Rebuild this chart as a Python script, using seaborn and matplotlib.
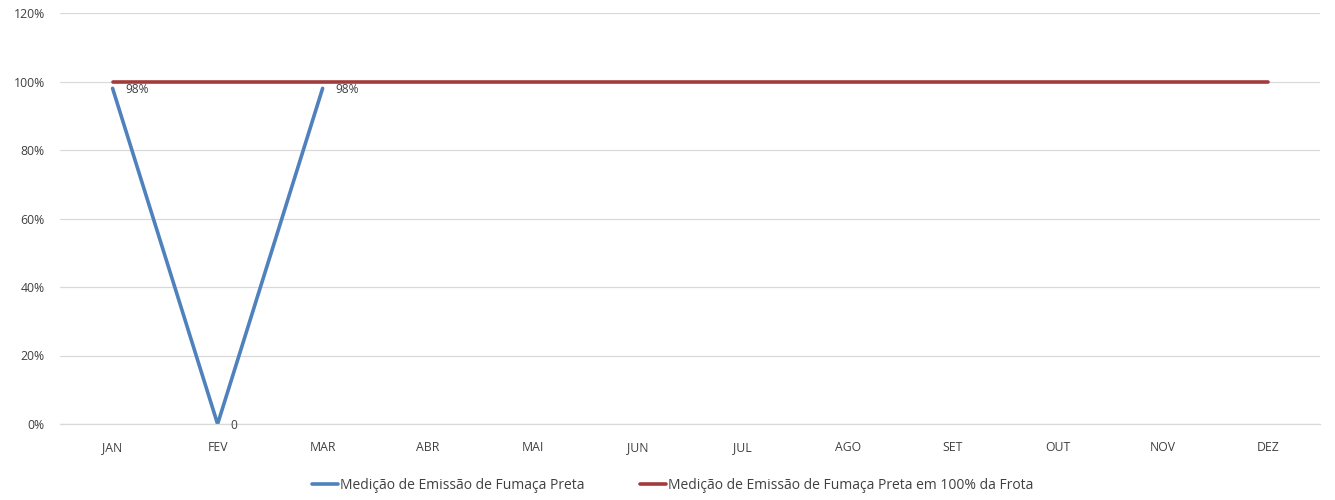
"""Medição de emissão de fumaça preta por mês."""

import numpy as np
import pandas as pd
import matplotlib
matplotlib.use("Agg")
import matplotlib.pyplot as plt
import seaborn as sns
from matplotlib.ticker import PercentFormatter

meses = ["JAN", "FEV", "MAR", "ABR", "MAI", "JUN",
         "JUL", "AGO", "SET", "OUT", "NOV", "DEZ"]
medicao = [0.98, 0.0, 0.98] + [np.nan] * 9
meta_frota = [1.0] * 12
rotulos = ["98%", "0", "98%"]

serie_medicao = "Medição de Emissão de Fumaça Preta"
serie_meta = "Medição de Emissão de Fumaça Preta em 100% da Frota"

df = pd.DataFrame({"mes": meses, "pos": range(len(meses)),
                   serie_medicao: medicao, serie_meta: meta_frota})

sns.set_theme(style="white")
plt.rcParams["font.family"] = ["Open Sans", "DejaVu Sans"]

fig = plt.figure(figsize=(13.35, 5), dpi=100)
ax = fig.add_axes([0.045, 0.152, 0.944, 0.822])

sns.lineplot(data=df, x="pos", y=serie_medicao, ax=ax, color="#4f81bd",
             linewidth=2.6, label=serie_medicao)
sns.lineplot(data=df, x="pos", y=serie_meta, ax=ax, color="#a33b3b",
             linewidth=2.6, label=serie_meta)

# data labels
for i, txt in enumerate(rotulos):
    ax.annotate(txt, (df["pos"][i], medicao[i]), xytext=(9, -1),
                textcoords="offset points", va="center", ha="left",
                fontsize=8.6, color="#404040")

ax.set_xlim(-0.5, 11.5)
ax.set_ylim(0, 1.2)
ax.set_yticks(np.arange(0, 1.21, 0.2))
ax.yaxis.set_major_formatter(PercentFormatter(1.0, decimals=0))
ax.set_xticks(df["pos"])
ax.set_xticklabels(meses)
ax.tick_params(axis="both", labelsize=8.8, colors="#404040", length=0)
ax.tick_params(axis="x", pad=12)
ax.tick_params(axis="y", pad=11)
ax.set_xlabel("")
ax.set_ylabel("")
ax.grid(axis="y", color="#d9d9d9", linewidth=0.9)
for s in ["top", "right", "left"]:
    ax.spines[s].set_visible(False)
ax.spines["bottom"].set_color("#d9d9d9")
ax.spines["bottom"].set_linewidth(0.9)

ax.legend(loc="upper center", bbox_to_anchor=(0.486, -0.1), ncol=2, frameon=False,
          fontsize=10, handlelength=1.9, handletextpad=0.1, columnspacing=4,
          labelcolor="#404040")

plt.savefig("out.png", dpi=100)
plt.close()
